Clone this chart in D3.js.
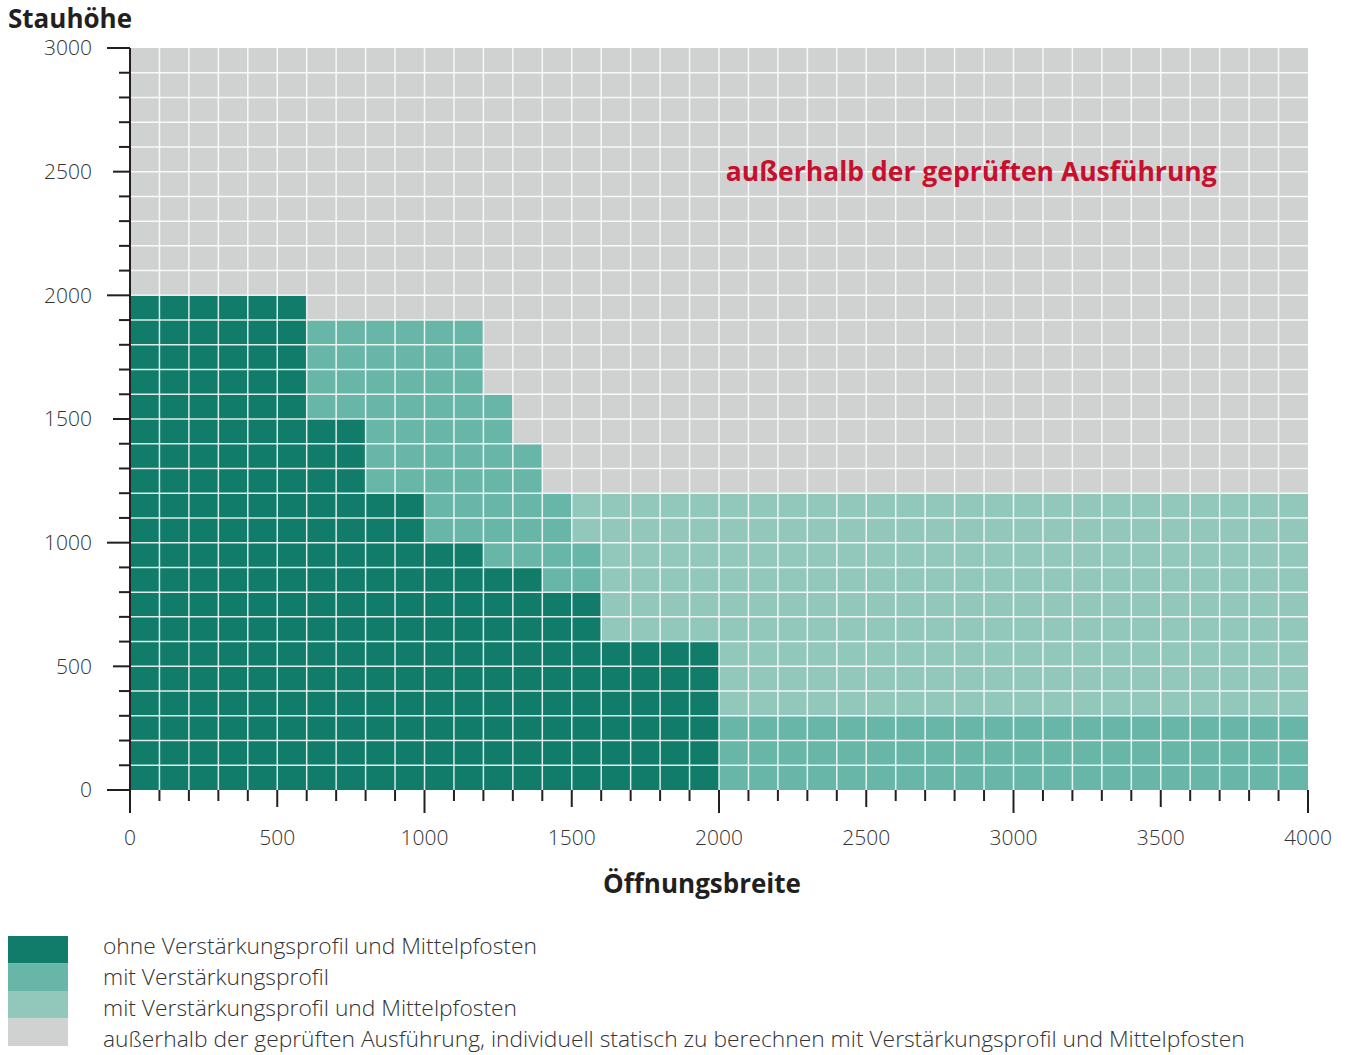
<!DOCTYPE html>
<html>
<head>
<meta charset="utf-8">
<script src="https://cdn.jsdelivr.net/npm/d3@7"></script>
<style>
  body { margin: 0; background: #fff; }
  svg text { font-family: "Open Sans", "Noto Sans", sans-serif; }
</style>
</head>
<body>
<svg id="chart" width="1349" height="1055"></svg>
<script>
// zones (legend order)
var zones = [
    "ohne Verstärkungsprofil und Mittelpfosten",
    "mit Verstärkungsprofil",
    "mit Verstärkungsprofil und Mittelpfosten",
    "außerhalb der geprüften Ausführung, individuell statisch zu berechnen mit Verstärkungsprofil und Mittelpfosten"
];
var zoneColors = ["#117c6a", "#68b6a8", "#92c7bb", "#d0d1d1"];

// blocks: zone index, Öffnungsbreite from/to, Stauhöhe from/to
var blockZone = [0, 0, 1, 0, 1, 0, 1, 0, 1, 0, 1, 0, 1, 0, 1, 2, 0, 2, 1, 2];
var blockX0   = [0, 600, 600, 800, 800, 1000, 1000, 1200, 1200, 1300, 1300, 1400, 1400, 1500, 1500, 1500, 1600, 1600, 2000, 2000];
var blockX1   = [600, 800, 800, 1000, 1000, 1200, 1200, 1300, 1300, 1400, 1400, 1500, 1500, 1600, 1600, 1600, 2000, 2000, 4000, 4000];
var blockY0   = [0, 0, 1500, 0, 1200, 0, 1000, 0, 900, 0, 900, 0, 800, 0, 800, 1000, 0, 600, 0, 300];
var blockY1   = [2000, 1500, 1900, 1200, 1900, 1000, 1900, 900, 1600, 900, 1400, 800, 1200, 800, 1000, 1200, 600, 1200, 300, 1200];

var xTicks = [0, 500, 1000, 1500, 2000, 2500, 3000, 3500, 4000];
var yTicks = [0, 500, 1000, 1500, 2000, 2500, 3000];
var xMax = 4000, yMax = 3000, step = 100;

var svg = d3.select("#chart");
var margin = {left: 130, top: 48, right: 41, bottom: 265};
var width = 1349 - margin.left - margin.right,
    height = 1055 - margin.top - margin.bottom;

var x = d3.scaleLinear().domain([0, xMax]).range([0, width]);
var y = d3.scaleLinear().domain([0, yMax]).range([height, 0]);

var g = svg.append("g").attr("transform", "translate(" + margin.left + "," + margin.top + ")");

// background = outside tested range
g.append("rect")
    .attr("width", width)
    .attr("height", height)
    .attr("fill", zoneColors[3]);

var blocks = blockZone.map(function(z, i) {
    return {zone: z, x0: blockX0[i], x1: blockX1[i], y0: blockY0[i], y1: blockY1[i]};
});

g.selectAll(".block").data(blocks)
  .enter().append("rect")
    .attr("class", "block")
    .attr("x", function(d){ return x(d.x0); })
    .attr("y", function(d){ return y(d.y1); })
    .attr("width", function(d){ return x(d.x1) - x(d.x0); })
    .attr("height", function(d){ return y(d.y0) - y(d.y1); })
    .attr("fill", function(d){ return zoneColors[d.zone]; });

// white grid
g.selectAll(".vgrid").data(d3.range(step, xMax, step))
  .enter().append("line")
    .attr("x1", function(d){ return x(d); }).attr("x2", function(d){ return x(d); })
    .attr("y1", 0).attr("y2", height)
    .attr("stroke", "#fff").attr("stroke-opacity", 0.85).attr("stroke-width", 1.5);
g.selectAll(".hgrid").data(d3.range(step, yMax, step))
  .enter().append("line")
    .attr("y1", function(d){ return y(d); }).attr("y2", function(d){ return y(d); })
    .attr("x1", 0).attr("x2", width)
    .attr("stroke", "#fff").attr("stroke-opacity", 0.85).attr("stroke-width", 1.5);

// ticks: 100 minor, 500 mid, 1000 major
function tickLen(v) {
    if (v % 1000 === 0) return 23;
    if (v % 500 === 0) return 17;
    return 11;
}
var axisColor = "#231f20";

g.append("line")
    .attr("x1", 0).attr("x2", 0).attr("y1", 0).attr("y2", height)
    .attr("stroke", axisColor).attr("stroke-width", 2);
g.selectAll(".ytick").data(d3.range(0, yMax + 1, step))
  .enter().append("line")
    .attr("x1", function(d){ return -tickLen(d); }).attr("x2", 0)
    .attr("y1", function(d){ return y(d); }).attr("y2", function(d){ return y(d); })
    .attr("stroke", axisColor).attr("stroke-width", 2);
g.selectAll(".xtick").data(d3.range(0, xMax + 1, step))
  .enter().append("line")
    .attr("x1", function(d){ return x(d); }).attr("x2", function(d){ return x(d); })
    .attr("y1", height).attr("y2", function(d){ return height + tickLen(d); })
    .attr("stroke", axisColor).attr("stroke-width", 2);

g.selectAll(".ylab").data(yTicks)
  .enter().append("text")
    .attr("x", -38)
    .attr("y", function(d){ return y(d); })
    .attr("dy", "0.35em")
    .attr("text-anchor", "end")
    .attr("font-size", 21)
    .attr("font-weight", 300)
    .attr("fill", "#333")
    .text(function(d){ return d; });

g.selectAll(".xlab").data(xTicks)
  .enter().append("text")
    .attr("x", function(d){ return x(d); })
    .attr("y", height + 48)
    .attr("dy", "0.35em")
    .attr("text-anchor", "middle")
    .attr("font-size", 21)
    .attr("font-weight", 300)
    .attr("fill", "#333")
    .text(function(d){ return d; });

// axis titles
svg.append("text")
    .attr("x", 8).attr("y", 28)
    .attr("font-size", 26).attr("font-weight", "bold").attr("fill", "#231f20")
    .text("Stauhöhe");
svg.append("text")
    .attr("x", 702).attr("y", 893)
    .attr("text-anchor", "middle")
    .attr("font-size", 26).attr("font-weight", "bold").attr("fill", "#231f20")
    .text("Öffnungsbreite");

// annotation
g.append("text")
    .attr("x", x(3690)).attr("y", y(2500))
    .attr("dy", "0.35em")
    .attr("text-anchor", "end")
    .attr("font-size", 26.5).attr("font-weight", "bold").attr("fill", "#c8102e")
    .text("außerhalb der geprüften Ausführung");

// legend
var legend = svg.append("g").attr("transform", "translate(8,936)");
legend.selectAll("rect").data(zones)
  .enter().append("rect")
    .attr("x", 0)
    .attr("y", function(d, i){ return i * 27.5; })
    .attr("width", 60).attr("height", 27.5)
    .attr("fill", function(d, i){ return zoneColors[i]; });
legend.selectAll("text").data(zones)
  .enter().append("text")
    .attr("x", 95)
    .attr("y", function(d, i){ return 10 + i * 31; })
    .attr("dy", "0.35em")
    .attr("font-size", 22.8)
    .attr("font-weight", 300)
    .attr("fill", "#333")
    .text(function(d){ return d; });
</script>
</body>
</html>
